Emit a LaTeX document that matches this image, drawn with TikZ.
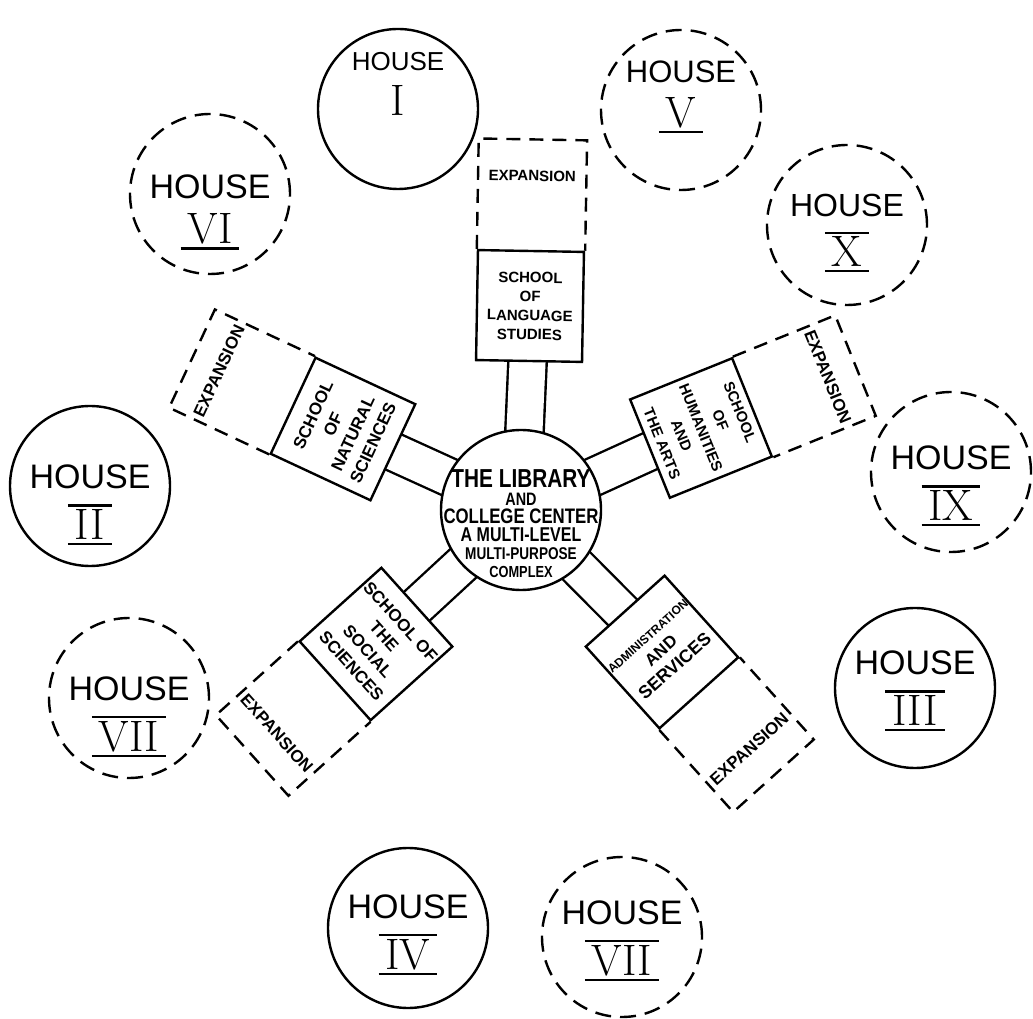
\documentclass[tikz,border=0pt]{standalone}
\usepackage{fontspec}
\usepackage{tikz}
\usetikzlibrary{calc,backgrounds}
\newfontfamily\handfont{Liberation Sans}
\newfontfamily\narrowfont[FakeStretch=0.8]{Liberation Sans}
% roman numerals with bars above and below
\newcommand{\numbar}[1]{\vbox{\hrule height 2.2pt\kern 3pt\hbox{\kern 7pt\rmfamily\fontsize{44}{44}\selectfont #1\kern 7pt}\kern 3pt\hrule height 2.2pt}}
\newcommand{\numlow}[1]{\vbox{\hbox{\kern 7pt\rmfamily\fontsize{44}{44}\selectfont #1\kern 7pt}\kern 3pt\hrule height 2.2pt}}
\newcommand{\numplain}[1]{\hbox{\rmfamily\fontsize{44}{44}\selectfont #1}}

\begin{document}
\begin{tikzpicture}[x=1pt,y=1pt,line width=2.4pt,
  house/.style={circle,draw,minimum size=160pt,inner sep=0pt},
  future/.style={dash pattern=on 16pt off 9pt},
  built/.style={},
  housetext/.style={align=center,inner sep=0pt},
  school/.style={draw,fill=white,minimum width=106pt,minimum height=110pt,inner sep=0pt,align=center},
  expbox/.style={minimum width=106pt,minimum height=108pt,inner sep=0pt},
  expline/.style={dash pattern=on 14pt off 9pt},
  exptext/.style={inner sep=0pt,font=\handfont\bfseries\fontsize{17}{17}\selectfont},
  corridor/.style={line width=2.4pt,double=white,double distance=36pt,shorten <=-6pt,shorten >=-6pt}]
  \useasboundingbox (0,0) rectangle (1033,1018);

  % the houses, solid ones built, dashed ones to come
  \foreach \nm/\px/\py/\kind/\fs/\dy/\rn in {
    one/398/909/built/26/25/\numplain{I},
    five/681/908/future/31/13/\numlow{V},
    six/210/824/future/34/-18/\numlow{VI},
    ten/847/793/future/32/-8/\numbar{X},
    two/90/532/built/34/-19/\numbar{II},
    nine/951/546/future/34/-14/\numbar{IX},
    sevenw/129/320/future/34/-19/\numbar{VII},
    three/915/330/built/34/-3/\numbar{III},
    four/408/90/built/34/-7/\numbar{IV},
    sevens/622/81/future/34/-4/\numbar{VII}}
  {
    \node[house,\kind] (h\nm) at (\px,\py) {};
    \node[housetext,font=\handfont\fontsize{\fs}{\fs}\selectfont] (t\nm) at ([yshift=\dy pt]h\nm.center) {HOUSE\\[14pt]\rn};
  }

  % library in the middle
  \node[house,fill=white] (hub) at (521,508) {};
  \node[align=center,inner sep=0pt,font=\narrowfont\bfseries\fontsize{16}{18}\selectfont] (hubtext) at (521,494)
    {\fontsize{26}{18}\selectfont THE LIBRARY\\
     \fontsize{18}{18}\selectfont AND\\
     \fontsize{21}{18}\selectfont COLLEGE CENTER\\
     \fontsize{20}{18}\selectfont A MULTI-LEVEL\\
     \fontsize{17}{18}\selectfont MULTI-PURPOSE\\
     \fontsize{16}{18}\selectfont COMPLEX};

  % language studies
  \node[school,rotate=-1,font=\handfont\bfseries\fontsize{15}{19}\selectfont] (langsch) at (530,712) {SCHOOL\\OF\\LANGUAGE\\STUDIES};
  \node[expbox,rotate=-1,anchor=south] (langexp) at (langsch.north) {};
  \draw[expline] (langexp.south west) -- (langexp.north west) -- (langexp.north east) -- (langexp.south east);
  \node[exptext,rotate=-1,font=\handfont\bfseries\fontsize{15}{15}\selectfont] (langexptxt) at ($(langexp.north)!0.33!(langexp.south)$) {EXPANSION};

  % natural sciences
  \node[school,rotate=65,font=\handfont\bfseries\fontsize{17}{22}\selectfont] (natsch) at (343,589) {SCHOOL\\OF\\NATURAL\\SCIENCES};
  \node[expbox,rotate=65,anchor=south] (natexp) at (natsch.north) {};
  \draw[expline] (natexp.south west) -- (natexp.north west) -- (natexp.north east) -- (natexp.south east);
  \node[exptext,rotate=65] (natexptxt) at ($(natexp.north)!0.27!(natexp.south)$) {EXPANSION};

  % humanities and the arts
  \node[school,rotate=-68,font=\handfont\bfseries\fontsize{15}{21}\selectfont] (humsch) at (701,590) {SCHOOL\\OF\\HUMANITIES\\AND\\THE ARTS};
  \node[expbox,rotate=-68,anchor=south] (humexp) at (humsch.north) {};
  \draw[expline] (humexp.south west) -- (humexp.north west) -- (humexp.north east) -- (humexp.south east);
  \node[exptext,rotate=-68] (humexptxt) at ($(humexp.north)!0.27!(humexp.south)$) {EXPANSION};

  % social sciences
  \node[school,rotate=-48,font=\handfont\bfseries\fontsize{17}{22}\selectfont] (socsch) at (376,374) {SCHOOL OF\\THE\\SOCIAL\\SCIENCES};
  \node[expbox,rotate=-48,anchor=north] (socexp) at (socsch.south) {};
  \draw[expline] (socexp.north west) -- (socexp.south west) -- (socexp.south east) -- (socexp.north east);
  \node[exptext,rotate=-48] (socexptxt) at ($(socexp.south)!0.3!(socexp.north)$) {EXPANSION};

  % administration and services
  \node[school,rotate=42,font=\handfont\bfseries\fontsize{18}{21}\selectfont] (admsch) at (662,366)
    {{\fontsize{12}{21}\selectfont ADMINISTRATION}\\{\fontsize{17}{21}\selectfont AND}\\SERVICES};
  \node[expbox,rotate=42,anchor=north] (admexp) at (admsch.south) {};
  \draw[expline] (admexp.north west) -- (admexp.south west) -- (admexp.south east) -- (admexp.north east);
  \node[exptext,rotate=42] (admexptxt) at ($(admexp.south)!0.33!(admexp.north)$) {EXPANSION};

  % corridors to the library
  \begin{scope}[on background layer]
    \foreach \w in {langsch,natsch,humsch,socsch,admsch} \draw[corridor] (hub) -- (\w);
  \end{scope}
\end{tikzpicture}
\end{document}
